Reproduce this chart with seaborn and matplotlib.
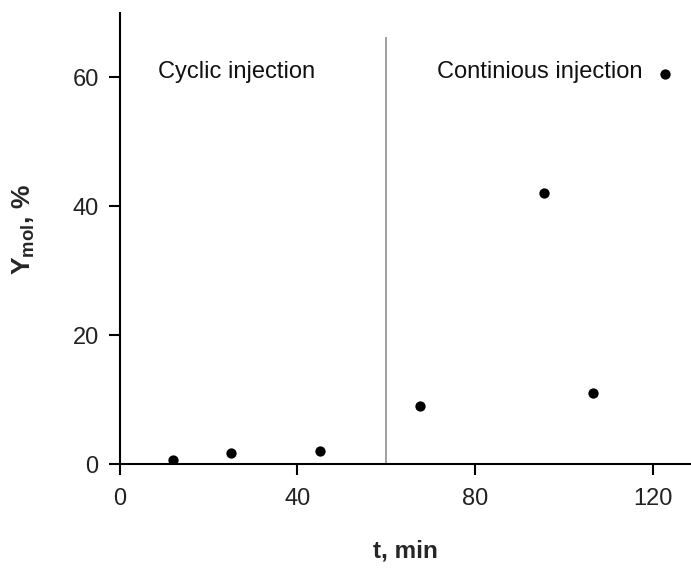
import matplotlib
matplotlib.use("Agg")
import matplotlib.pyplot as plt
import seaborn as sns
import pandas as pd

# Data
t_min = [12.1, 25.0, 45.1, 67.6, 95.4, 106.4, 122.6]
y_mol = [0.7, 1.7, 2.1, 9.0, 42.0, 11.1, 60.5]
x_ticks = [0, 40, 80, 120]
y_ticks = [0, 20, 40, 60]
divider_t = 60
divider_top = 66.2
label_left = "Cyclic injection"
label_right = "Continious injection"

sns.set_theme(style="white")
plt.rcParams['font.family'] = ['Liberation Sans', 'DejaVu Sans']
plt.rcParams['mathtext.fontset'] = 'custom'
plt.rcParams['mathtext.rm'] = 'Liberation Sans'
plt.rcParams['mathtext.bf'] = 'Liberation Sans:bold'

df = pd.DataFrame({"t": t_min, "y": y_mol})

fig = plt.figure(figsize=(6.91, 5.69), dpi=100)
ax = fig.add_axes([0.173, 0.184, 0.827, 0.7937])

ax.vlines(divider_t, 0, divider_top, color="#999999", linewidth=1.3, zorder=1)
sns.scatterplot(data=df, x="t", y="y", ax=ax, color="black", s=55,
                marker="o", edgecolor="black", linewidth=0, zorder=3, legend=False)

ax.set_xlim(0, 128.5)
ax.set_ylim(0, 70)
ax.set_xticks(x_ticks)
ax.set_yticks(y_ticks)
ax.tick_params(axis="both", direction="out", length=8, width=1.5, color="black",
               labelsize=17, labelcolor="#222222", bottom=True, left=True)
ax.tick_params(axis="x", pad=9)
ax.tick_params(axis="y", pad=7)

for side in ["top", "right"]:
    ax.spines[side].set_visible(False)
for side in ["left", "bottom"]:
    ax.spines[side].set_color("black")
    ax.spines[side].set_linewidth(1.5)

ax.set_xlabel("t, min", fontsize=17.5, fontweight="bold", labelpad=21)
ax.set_ylabel(r"$\mathbf{Y_{mol}}$, %", fontsize=19, fontweight="bold")
ax.yaxis.set_label_coords(-0.145, 0.52)

ax.text(8.6, 60.8, label_left, fontsize=17, color="#111111", va="center", ha="left")
ax.text(71.4, 60.8, label_right, fontsize=17, color="#111111", va="center", ha="left")

fig.savefig("out.png", dpi=100)
